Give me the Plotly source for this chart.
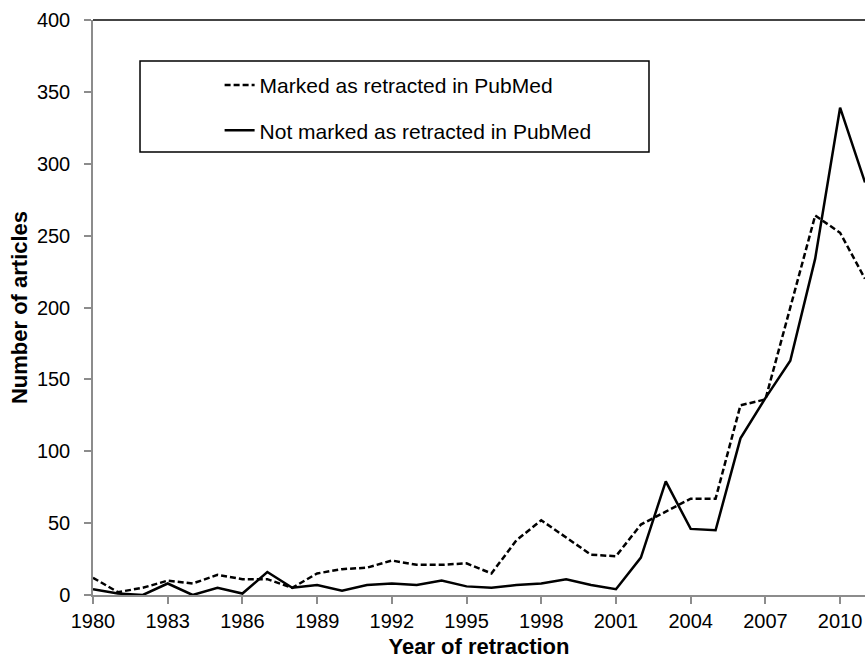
import plotly.graph_objects as go

years = list(range(1980, 2012))
marked = [12, 2, 5, 10, 8, 14, 11, 11, 5, 15, 18, 19, 24, 21, 21, 22,
          15, 38, 52, 40, 28, 27, 49, 58, 67, 67, 132, 136, 200, 264, 252, 220]
not_marked = [4, 1, 0, 8, 0, 5, 1, 16, 5, 7, 3, 7, 8, 7, 10, 6,
              5, 7, 8, 11, 7, 4, 26, 79, 46, 45, 109, 137, 163, 234, 339, 287]

x_ticks = list(range(1980, 2011, 3))
y_ticks = list(range(0, 401, 50))

FONT = "Arial, Liberation Sans, sans-serif"

fig = go.Figure()
fig.add_trace(go.Scatter(
    x=years, y=marked, mode="lines", name="Marked as retracted in PubMed",
    line=dict(color="black", width=2.5, dash="6px,3px"), legendgroup="a"))
fig.add_trace(go.Scatter(
    x=years, y=not_marked, mode="lines", name="Not marked as retracted in PubMed",
    line=dict(color="black", width=2.5), legendgroup="b"))

fig.update_layout(
    width=865, height=659,
    margin=dict(l=93, r=0, t=20, b=64),
    paper_bgcolor="white", plot_bgcolor="white",
    font=dict(family=FONT, color="black"),
    showlegend=True,
    legend=dict(x=0.164, y=0.922, xanchor="left", yanchor="top",
                bgcolor="rgba(0,0,0,0)", borderwidth=0,
                font=dict(size=21, family=FONT, color="black"),
                traceorder="grouped", tracegroupgap=15),
    xaxis=dict(range=[1980, 2011], tickvals=x_ticks, ticktext=[str(v) for v in x_ticks],
               automargin=False,
               showgrid=False, zeroline=False, showline=True, linecolor="#8c8c8c", linewidth=1.5,
               ticks="outside", ticklen=7, tickcolor="#8c8c8c", tickwidth=1.5,
               tickfont=dict(size=20, family=FONT, color="black"),
               title=dict(text="<b>Year of retraction</b>", font=dict(size=22, family=FONT), standoff=16)),
    yaxis=dict(range=[0, 400], tickvals=y_ticks, showgrid=False, zeroline=False,
               automargin=False,
               showline=True, linecolor="#8c8c8c", linewidth=1.5,
               ticks="outside", ticklen=7, tickcolor="#8c8c8c", tickwidth=1.5,
               ticklabelstandoff=10,
               tickfont=dict(size=20, family=FONT, color="black"),
               title=dict(text="<b>Number of articles</b>", font=dict(size=22, family=FONT), standoff=3)),
    shapes=[
        dict(type="line", xref="paper", yref="paper", x0=0, x1=1, y0=1, y1=1,
             line=dict(color="#444444", width=2)),
        dict(type="rect", xref="paper", yref="paper", x0=0.0609, x1=0.7202, y0=0.7704, y1=0.9287,
             line=dict(color="black", width=1.5), fillcolor="rgba(0,0,0,0)"),
    ],
)

fig.write_html("out.html", config={"displayModeBar": False},
               post_script="document.body.style.margin='0';document.body.style.overflow='hidden';")
